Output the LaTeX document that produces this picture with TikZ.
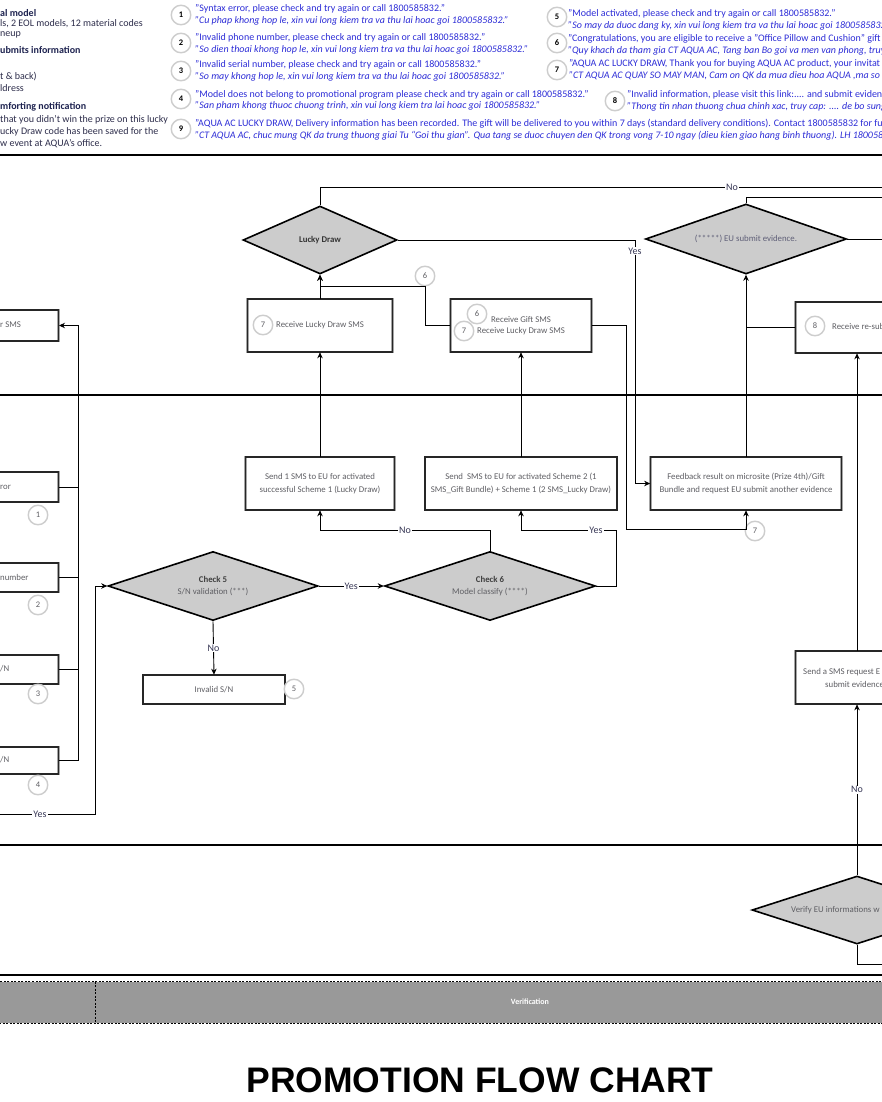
\documentclass[tikz,border=0pt]{standalone}
\usepackage{fontspec}
\setmainfont{Carlito}
\newfontfamily\titlefont{Liberation Sans}
\usepackage{tikz}
\usetikzlibrary{shapes.geometric, arrows.meta, positioning, calc}
\definecolor{MsgBlue}{RGB}{45,45,215}
\definecolor{LegendInk}{RGB}{45,45,75}
\definecolor{HeadInk}{RGB}{30,35,80}
\definecolor{BoxInk}{RGB}{95,95,100}
\definecolor{LabelInk}{RGB}{55,55,85}
\definecolor{DiamondGray}{RGB}{204,204,204}
\definecolor{BandGray}{RGB}{153,153,153}
\definecolor{RingGray}{RGB}{205,205,205}
\tikzset{
  flowbox/.style={rectangle, draw=gray!70, double=black!85, double distance=1.3pt, line width=0.7pt,
    fill=white, inner sep=2pt, align=center, font=\fontsize{8.8}{12.5}\selectfont, text=BoxInk},
  check/.style={diamond, aspect=3, draw=black, line width=1.6pt, fill=DiamondGray, inner sep=0pt,
    align=center, font=\fontsize{8.8}{12}\selectfont, text=BoxInk},
  tag/.style={circle, draw=RingGray, line width=1.4pt, fill=white, minimum size=19.5pt, inner sep=0pt,
    font=\fontsize{8.5}{9}\selectfont, text=BoxInk},
  legtag/.style={tag, font=\fontsize{8.5}{9}\selectfont\bfseries, text=black},
  msg/.style={anchor=west, inner sep=0pt, font=\fontsize{10}{11}\selectfont, text=MsgBlue},
  msgvn/.style={msg, font=\fontsize{10}{11}\selectfont\itshape},
  legtxt/.style={anchor=west, inner sep=0pt, font=\fontsize{10}{11}\selectfont, text=LegendInk},
  leghead/.style={legtxt, font=\fontsize{10}{11}\selectfont\bfseries, text=HeadInk},
  cuttxt/.style={anchor=west, inner sep=0pt, font=\fontsize{8.8}{11}\selectfont, text=BoxInk},
  flow/.style={draw=black, line width=0.9pt, -{Stealth[length=6pt,width=5.5pt]}},
  link/.style={draw=black, line width=0.9pt},
  lane/.style={draw=black, line width=1.1pt},
  elab/.style={fill=white, inner sep=1pt, font=\fontsize{10}{11}\selectfont, text=LabelInk},
}

\begin{document}
\begin{tikzpicture}[x=1pt, y=-1pt]
\useasboundingbox (0,0) rectangle (882,1102);
\fill[white] (0,0) rectangle (882,1102);
\clip (0,0) rectangle (882,1102);

% legend
\node[leghead] (l1) at (0,13) {al model};
\node[legtxt] (l2) at (0,24) {ls, 2 EOL models, 12 material codes};
\node[legtxt] (l3) at (0,35) {neup};
\node[leghead] (l4) at (0,50) {ubmits information};
\node[legtxt] (l5) at (0,77) {t \& back)};
\node[legtxt] (l6) at (0,88) {ldress};
\node[leghead] (l7) at (0,107) {mforting notification};
\node[legtxt] (l8) at (0,120) {that you didn't win the prize on this lucky};
\node[legtxt] (l9) at (0,132) {ucky Draw code has been saved for the};
\node[legtxt] (l10) at (0,144) {w event at AQUA's office.};

\node[legtag] (m1) at (181,15) {1};
\node[msg] (m1a) at (195,9) {"Syntax error, please check and try again or call 1800585832."};
\node[msgvn] (m1b) at (195,21) {"Cu phap khong hop le, xin vui long kiem tra va thu lai hoac goi 1800585832."};
\node[legtag] (m2) at (181,43) {2};
\node[msg] (m2a) at (195,38) {"Invalid phone number, please check and try again or call 1800585832."};
\node[msgvn] (m2b) at (195,50) {"So dien thoai khong hop le, xin vui long kiem tra va thu lai hoac goi 1800585832."};
\node[legtag] (m3) at (181,71) {3};
\node[msg] (m3a) at (195,65) {"Invalid serial number, please check and try again or call 1800585832."};
\node[msgvn] (m3b) at (195,77) {"So may khong hop le, xin vui long kiem tra va thu lai hoac goi 1800585832."};
\node[legtag] (m4) at (181,99) {4};
\node[msg] (m4a) at (195,95) {"Model does not belong to promotional program please check and try again or call 1800585832."};
\node[msgvn] (m4b) at (195,106) {"San pham khong thuoc chuong trinh, xin vui long kiem tra lai hoac goi 1800585832."};
\node[legtag] (m9) at (181,129) {9};
\node[msg] (m9a) at (195,124) {"AQUA AC LUCKY DRAW, Delivery information has been recorded. The gift will be delivered to you within 7 days (standard delivery conditions). Contact 1800585832 for fur};
\node[msgvn] (m9b) at (195,136) {"CT AQUA AC, chuc mung QK da trung thuong giai Tu “Goi thu gian”. Qua tang se duoc chuyen den QK trong vong 7-10 ngay (dieu kien giao hang binh thuong). LH 180058};

\node[legtag] (m5) at (557,17) {5};
\node[msg] (m5a) at (568,14) {"Model activated, please check and try again or call 1800585832."};
\node[msgvn] (m5b) at (568,26) {"So may da duoc dang ky, xin vui long kiem tra va thu lai hoac goi 1800585832."};
\node[legtag] (m6) at (557,43) {6};
\node[msg] (m6a) at (568,39) {"Congratulations, you are eligible to receive a "Office Pillow and Cushion" gift};
\node[msgvn] (m6b) at (568,51) {"Quy khach da tham gia CT AQUA AC, Tang ban Bo goi va men van phong, truy};
\node[legtag] (m7) at (557,70) {7};
\node[msg] (m7a) at (569,64) {"AQUA AC LUCKY DRAW, Thank you for buying AQUA AC product, your invitat};
\node[msgvn] (m7b) at (569,76) {"CT AQUA AC QUAY SO MAY MAN, Cam on QK da mua dieu hoa AQUA ,ma so};
\node[legtag] (m8) at (615,101) {8};
\node[msg] (m8a) at (627,95) {"Invalid information, please visit this link:.... and submit evidenc};
\node[msgvn] (m8b) at (627,107) {"Thong tin nhan thuong chua chinh xac, truy cap: .... de bo sung};

% lanes
\foreach \ly in {155,395,845,975}
  \draw[lane] (0,\ly) -- (882,\ly);
\draw[fill=BandGray, dash pattern=on 2pt off 1.5pt, line width=0.6pt] (-5,981.5) rectangle (890,1023);
\draw[dash pattern=on 2pt off 1.5pt, line width=0.6pt] (95,981.5) -- (95,1023);
\node[font=\fontsize{8}{9}\selectfont\bfseries, text=white] (band) at (530,1002) {Verification};
\node[font=\titlefont\fontsize{35.5}{38}\selectfont\bfseries] (title) at (480,1080) {PROMOTION FLOW CHART};

% decisions
\node[check, minimum width=154, minimum height=68, text=black!80] (luck) at (320,240) {\textbf{Lucky Draw}};
\node[check, minimum width=201, minimum height=70, text=LabelInk!80] (evid) at (746,239) {(*****) EU submit evidence.};
\node[check, minimum width=210, minimum height=69] (chk5) at (213,586) {\textbf{\color{black!75}Check 5}\\S/N validation (***)};
\node[check, minimum width=211, minimum height=69] (chk6) at (490,586) {\textbf{\color{black!75}Check 6}\\Model classify (****)};
\node[check, minimum width=210, minimum height=68] (verify) at (857,910) {};
\node[cuttxt] (verifyt) at (791,910) {Verify EU informations w};

% boxes
\node[flowbox, minimum width=145, minimum height=53] (rcvld) at (320,325.5) {Receive Lucky Draw SMS};
\node[flowbox, minimum width=141, minimum height=53] (gift) at (521,325.5) {Receive Gift SMS\\[-1.5pt]Receive Lucky Draw SMS};
\node[flowbox, minimum width=149, minimum height=53] (send1) at (320,483.5) {Send 1 SMS to EU for activated\\successful Scheme 1 (Lucky Draw)};
\node[flowbox, minimum width=192, minimum height=53] (send2) at (521,483.5) {Send\ \ SMS to EU for activated Scheme 2 (1\\SMS\_Gift Bundle) + Scheme 1 (2 SMS\_Lucky Draw)};
\node[flowbox, minimum width=191, minimum height=53] (feed) at (746,483.5) {Feedback result on microsite (Prize 4th)/Gift\\Bundle and request EU submit another evidence};
\node[flowbox, minimum width=142, minimum height=29] (invsn) at (214,689.5) {Invalid S/N};
\node[flowbox, anchor=west, minimum width=200, minimum height=51] (resub) at (795,327.5) {};
\node[cuttxt] (resubt) at (832,326) {Receive re-sub};
\node[flowbox, anchor=west, minimum width=200, minimum height=53] (sendreq) at (795,677.5) {};
\node[cuttxt] (sendreqa) at (803,672) {Send a SMS request E};
\node[cuttxt] (sendreqb) at (825,684) {submit evidence};

\node[flowbox, anchor=east, minimum width=140, minimum height=31] (smsl) at (59,325.5) {};
\node[cuttxt] (smslt) at (0,325) {r SMS};
\node[flowbox, anchor=east, minimum width=140, minimum height=30] (err1) at (59,487) {};
\node[cuttxt] (err1t) at (0,487) {ror};
\node[flowbox, anchor=east, minimum width=140, minimum height=29] (err2) at (59,577.5) {};
\node[cuttxt] (err2t) at (0,577) {number};
\node[flowbox, anchor=east, minimum width=140, minimum height=29] (err3) at (59,669.5) {};
\node[cuttxt] (err3t) at (0,669) {/N};
\node[flowbox, anchor=east, minimum width=140, minimum height=27] (err4) at (59,760.5) {};
\node[cuttxt] (err4t) at (0,760) {/N};

% message tags
\node[tag] (c1) at (38,515) {1};
\node[tag] (c2) at (38,605) {2};
\node[tag] (c3) at (38,694) {3};
\node[tag] (c4) at (38,785) {4};
\node[tag] (c5) at (294,689) {5};
\node[tag] (c6top) at (425,276) {6};
\node[tag] (c6g) at (477,314) {6};
\node[tag] (c7g) at (464,331) {7};
\node[tag] (c7ld) at (263,325) {7};
\node[tag] (c7fb) at (755,531) {7};
\node[tag] (c8) at (815,326) {8};

% connectors
\coordinate (noend) at (900,187);
\coordinate (evtop) at (900,197);
\coordinate (evright) at (900,239);
\coordinate (vfend) at (900,964);
\coordinate (yesin) at (-10,814);
\coordinate (yesup) at (95,586);
\coordinate (ldturn) at (635,240);
\coordinate (gturn) at (626,529);
\coordinate (c6up) at (490,530);
\coordinate (c6turn) at (616,530);
\coordinate (bus) at (78,0);
\coordinate (sx) at (857,0);

\draw[link] (luck.north) |- (noend);
\draw[flow] (luck.east) -- (ldturn) |- (feed.west);
\draw[flow] (rcvld.north) -- (luck.south);
\draw[flow] (gift.west) -| (c6top.south) -| (luck.south);
\draw[flow] (gift.east) -| (gturn) -| (feed.south);
\draw[flow] (feed.north) -- (evid.south);
\draw[link] (resub.west) -- (resub.west -| feed.north);
\draw[link] (evid.north) |- (evtop);
\draw[link] (evid.east) -- (evright);
\draw[flow] (sendreq.north -| sx) -- (resub.south -| sx);
\draw[flow] (verify.north) -- (verify.north |- sendreq.south) node[elab, midway] (nolab4) {No};
\draw[link] (verify.south) |- (vfend);
\draw[flow] (send1.north) -- (rcvld.south);
\draw[flow] (send2.north) -- (gift.south);
\draw[flow] (chk6.north) -- (c6up) -| (send1.south);
\draw[flow] (chk6.east) -| (c6turn) -| (send2.south);
\draw[flow] (chk5.east) -- (chk6.west) node[elab, midway] (yeslab2) {Yes};
\draw[flow] (chk5.south) -- (invsn.north) node[elab, midway] (nolab2) {No};
\draw[flow] (yesin) -| (yesup) -- (chk5.west);
\foreach \e in {err1,err2,err3}
  \draw[link] (\e.east) -- (\e.east -| bus);
\draw[flow] (err4.east) -- (err4.east -| bus) -- (smsl.east -| bus) -- (smsl.east);

\node[elab] (nolab1) at (732,187) {No};
\node[elab, inner sep=0.3pt] (yeslab1) at (635,251) {Yes};
\node[elab] (nolab3) at (405,530) {No};
\node[elab] (yeslab3) at (596,530) {Yes};
\node[elab] (yeslab4) at (40,814) {Yes};
\end{tikzpicture}
\end{document}
